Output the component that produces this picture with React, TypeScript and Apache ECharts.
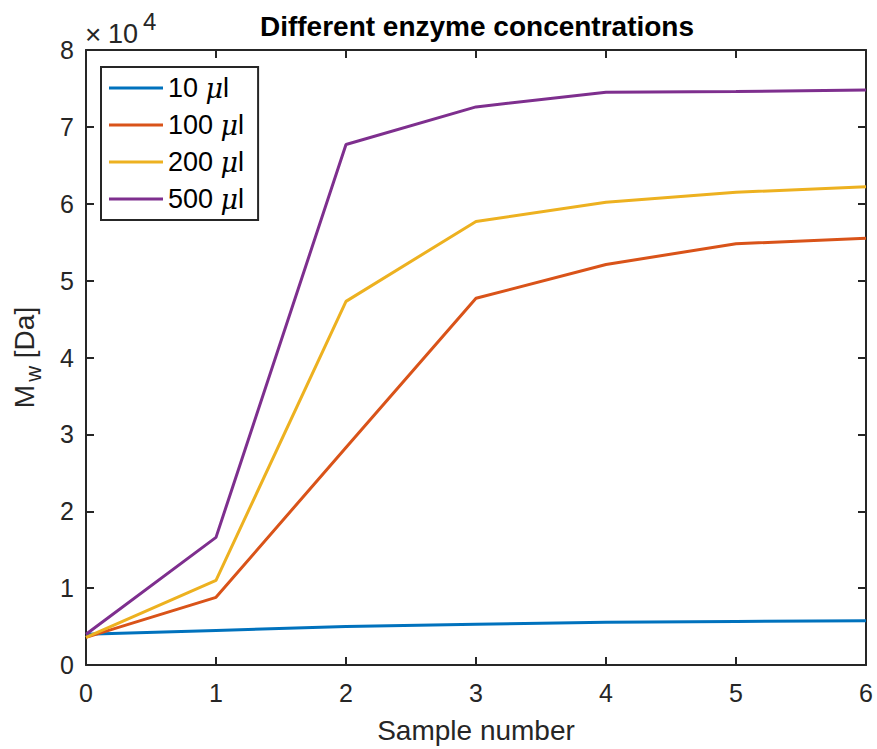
import React, { useEffect, useRef } from "react";
import * as echarts from "echarts";

const samples = [0, 1, 2, 3, 4, 5, 6];
const seriesNames = ["10", "100", "200", "500"];
const mw10 = [4000, 4500, 5000, 5300, 5550, 5670, 5750];
const mw100 = [3600, 8800, 28300, 47700, 52100, 54800, 55500];
const mw200 = [3600, 11000, 47300, 57700, 60200, 61500, 62200];
const mw500 = [4000, 16600, 67700, 72600, 74500, 74600, 74800];
const colors = ["#0072BD", "#D95319", "#EDB120", "#7E2F8E"];
const yTicks = [0, 1, 2, 3, 4, 5, 6, 7, 8];

const FONT = "'Liberation Sans', Arial, Helvetica, sans-serif";
const AX = "#262626";

export default function App() {
  const ref = useRef<HTMLDivElement>(null);
  useEffect(() => {
    if (!ref.current) return;
    const chart = echarts.init(ref.current, undefined, { renderer: "svg" });
    const all = [mw10, mw100, mw200, mw500];
    const axisCommon = {
      axisLine: { show: true, onZero: false, lineStyle: { color: AX, width: 2 } },
      axisTick: { show: true, inside: true, length: 8, lineStyle: { color: AX, width: 2 } },
      splitLine: { show: false },
    };
    chart.setOption({
      animation: false,
      backgroundColor: "#ffffff",
      textStyle: { fontFamily: FONT },
      title: [
        {
          text: "Different enzyme concentrations",
          left: 472,
          top: 7,
          textAlign: "center",
          textStyle: { fontFamily: FONT, fontSize: 28, fontWeight: "bold", color: "#000" },
        },
        {
          text: "×",
          left: 85,
          top: 20,
          padding: 0,
          textStyle: { fontFamily: FONT, fontSize: 28, fontWeight: "normal", color: AX },
        },
        {
          text: "10",
          left: 108,
          top: 20,
          padding: 0,
          textStyle: { fontFamily: FONT, fontSize: 27, fontWeight: "normal", color: AX },
        },
        {
          text: "4",
          left: 143,
          top: 9,
          padding: 0,
          textStyle: { fontFamily: FONT, fontSize: 24, fontWeight: "normal", color: AX },
        },
      ],
      grid: { left: 86, right: 11, top: 50, bottom: 82, containLabel: false },
      legend: {
        orient: "vertical",
        left: 101,
        top: 67,
        padding: [5, 14, 5, 8],
        itemGap: 5,
        itemWidth: 54,
        itemHeight: 3,
        icon: "rect",
        borderColor: AX,
        borderWidth: 2,
        borderRadius: 0,
        backgroundColor: "#fff",
        data: seriesNames.map((n) => n),
        formatter: (name: string) => `${name} {i|μ}l`,
        textStyle: {
          fontFamily: FONT,
          fontSize: 27,
          color: "#000",
          lineHeight: 32,
          rich: {
            i: { fontStyle: "italic", fontSize: 27, lineHeight: 32, fontFamily: "'DejaVu Serif', serif", color: "#000" },
          },
        },
      },
      xAxis: [
        {
          type: "value",
          min: 0,
          max: 6,
          interval: 1,
          position: "bottom",
          name: "Sample number",
          nameLocation: "middle",
          nameGap: 51,
          nameTextStyle: { fontFamily: FONT, fontSize: 28, color: AX },
          axisLabel: { fontFamily: FONT, fontSize: 25, color: AX, margin: 15 },
          ...axisCommon,
        },
        {
          type: "value",
          min: 0,
          max: 6,
          interval: 1,
          position: "top",
          axisLabel: { show: false },
          ...axisCommon,
        },
      ],
      yAxis: [
        {
          type: "value",
          min: 0,
          max: 80000,
          interval: 10000,
          position: "left",
          name: "M{sub|w} [Da]",
          nameLocation: "middle",
          nameRotate: 90,
          nameGap: 42,
          nameTextStyle: {
            fontFamily: FONT,
            fontSize: 28,
            color: AX,
            rich: { sub: { fontSize: 22, fontFamily: FONT, color: AX, verticalAlign: "bottom", padding: [18, 0, 0, 3] } },
          },
          axisLabel: {
            fontFamily: FONT,
            fontSize: 25,
            color: AX,
            margin: 12,
            formatter: (v: number) => String(yTicks[Math.round(v / 10000)]),
          },
          ...axisCommon,
        },
        {
          type: "value",
          min: 0,
          max: 80000,
          interval: 10000,
          position: "right",
          axisLabel: { show: false },
          ...axisCommon,
        },
      ],
      series: seriesNames.map((n, i) => ({
        name: n,
        type: "line",
        xAxisIndex: 0,
        yAxisIndex: 0,
        symbol: "none",
        showSymbol: false,
        color: colors[i],
        lineStyle: { color: colors[i], width: 3 },
        data: samples.map((s, j) => [s, all[i][j]]),
      })),
    });
    return () => chart.dispose();
  }, []);
  return <div ref={ref} style={{ position: "absolute", left: 0, top: 0, width: 877, height: 749 }} />;
}
